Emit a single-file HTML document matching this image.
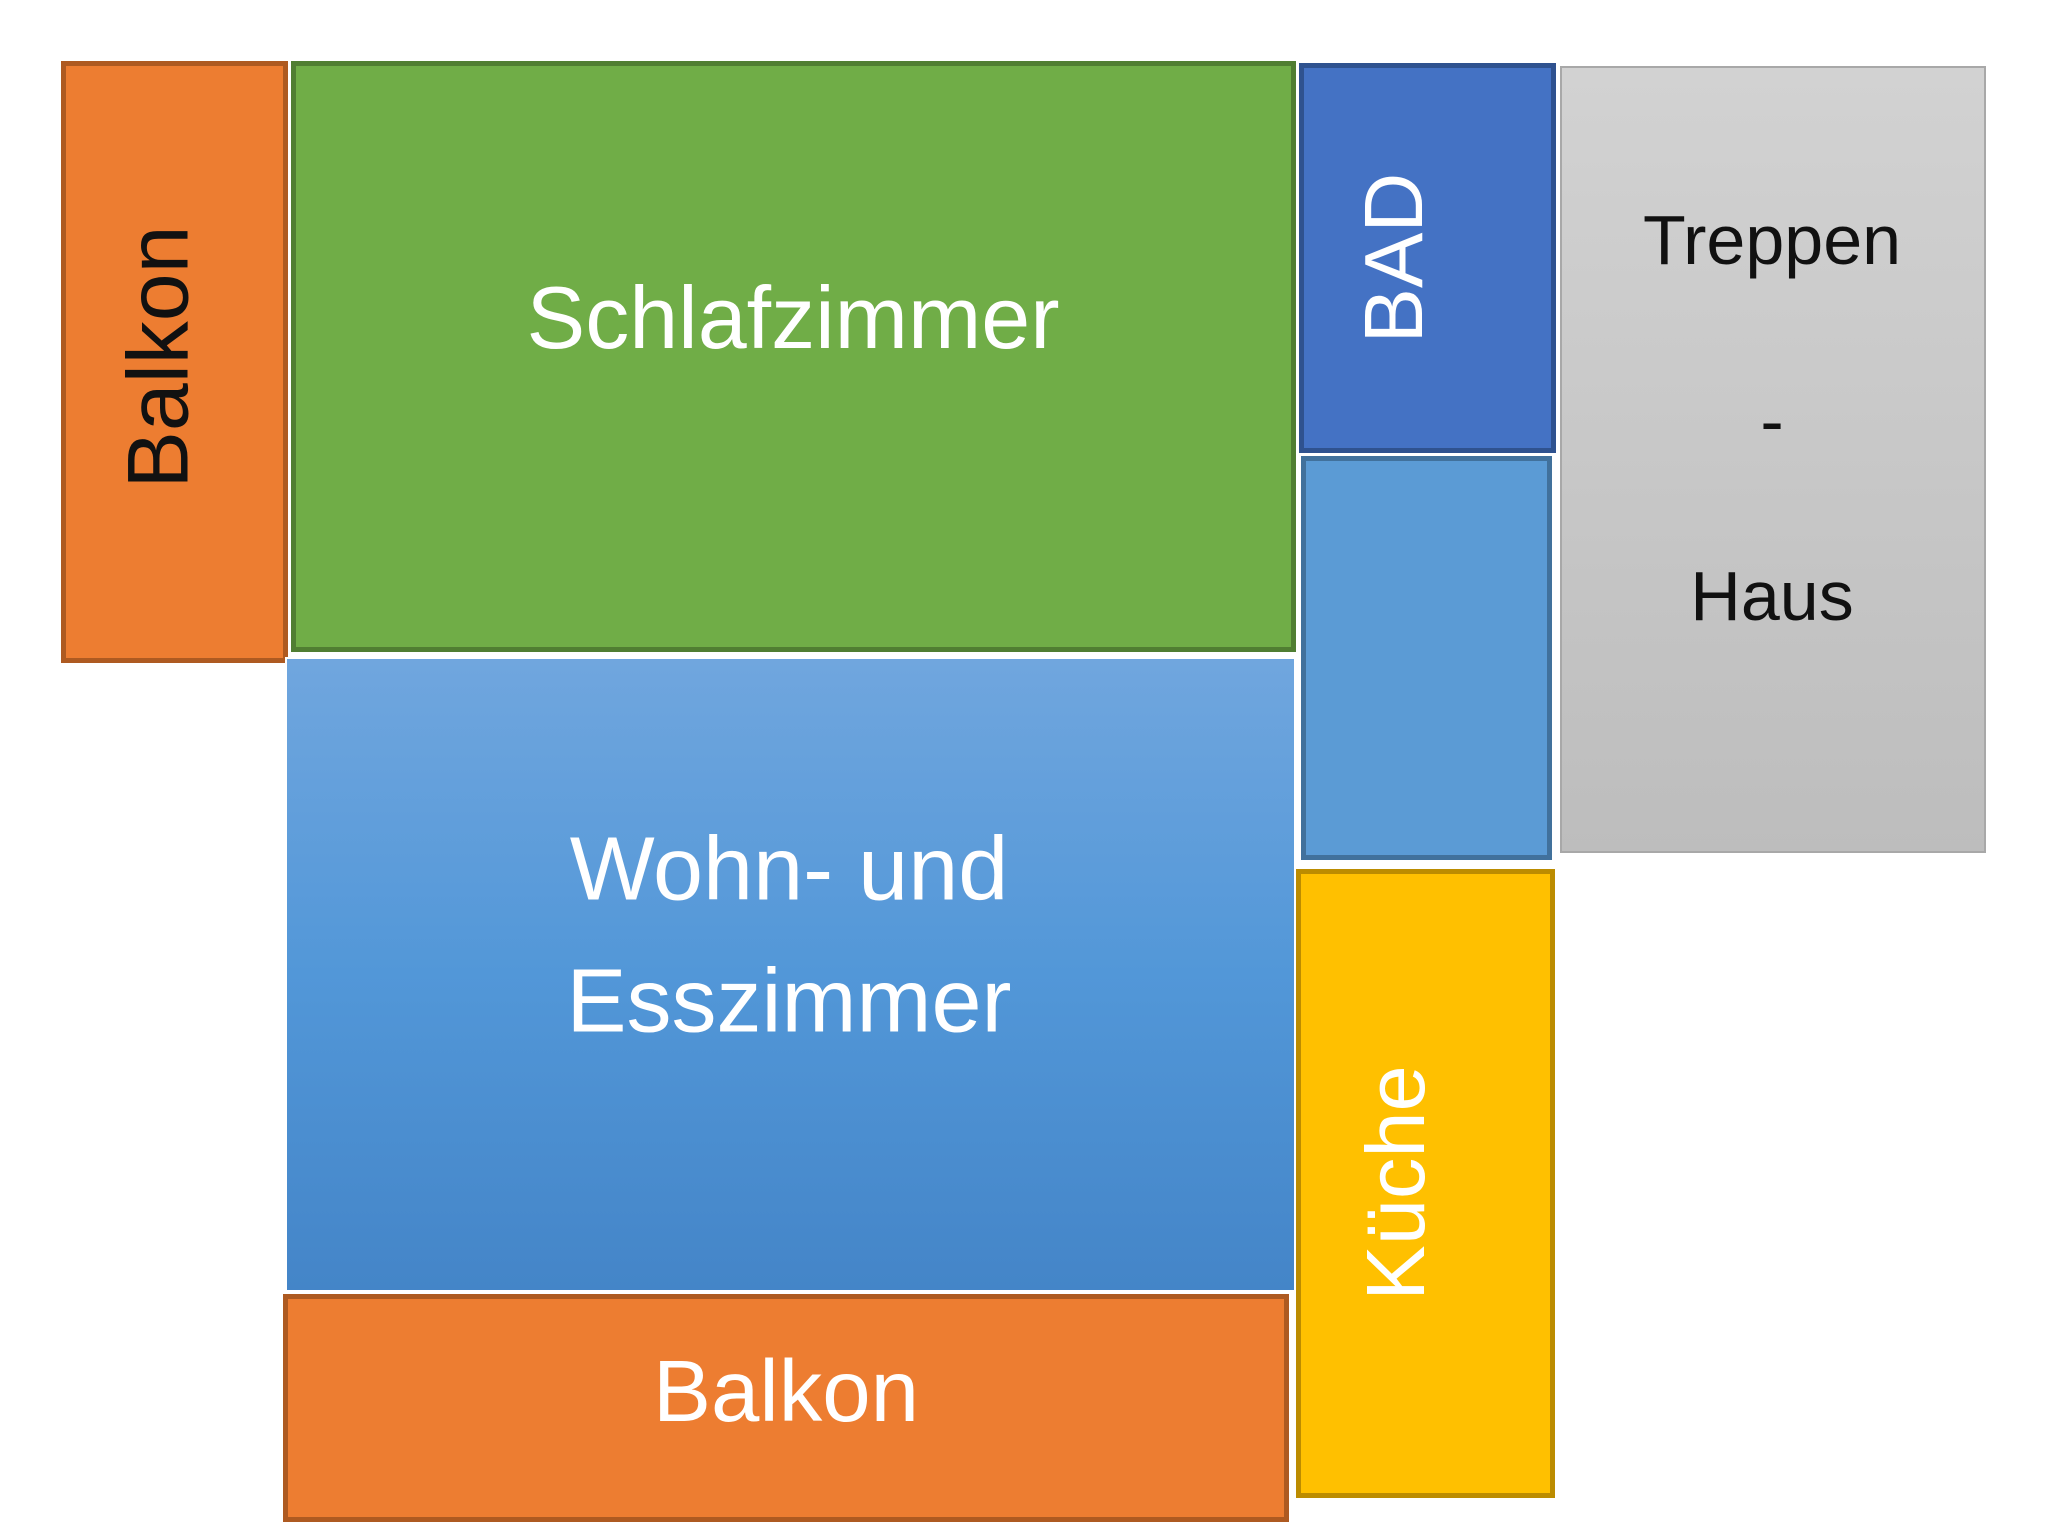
<!DOCTYPE html>
<html><head><meta charset="utf-8"><style>
html,body{margin:0;padding:0;background:#fff;}
body{width:2048px;height:1538px;position:relative;overflow:hidden;font-family:"Liberation Sans",sans-serif;}
.b{position:absolute;box-sizing:border-box;border:5px solid;}
.t{position:absolute;white-space:nowrap;transform:translate(-50%,-50%);}
.r{transform:translate(-50%,-50%) rotate(-90deg);}
</style></head><body>
<div class="b" style="left:61px;top:61px;width:227px;height:602px;background:#ED7D31;border-color:#AE5A21"></div>
<div class="b" style="left:291px;top:61px;width:1005px;height:591px;background:#70AD47;border-color:#507E32"></div>
<div class="b" style="left:1299px;top:63px;width:257px;height:390px;background:#4472C4;border-color:#2F528F"></div>
<div class="b" style="left:1560px;top:66px;width:426px;height:787px;background:linear-gradient(#d2d2d2,#bdbdbd);border:2px solid #a8a8a8"></div>
<div class="b" style="left:1301px;top:456px;width:251px;height:404px;background:#5B9BD5;border-color:#41719C"></div>
<div class="b" style="left:285px;top:657px;width:1011px;height:635px;background:linear-gradient(#70a6de,#5297d8 50%,#4485c8);border:2px solid #fff"></div>
<div class="b" style="left:1296px;top:869px;width:259px;height:629px;background:#FFC000;border-color:#BC8C00"></div>
<div class="b" style="left:283px;top:1294px;width:1006px;height:228px;background:#ED7D31;border-color:#AE5A21"></div>

<div class="t r" style="left:159px;top:357px;font-size:86px;color:#111">Balkon</div>
<div class="t" style="left:793px;top:318px;font-size:88px;color:#fff">Schlafzimmer</div>
<div class="t r" style="left:1394px;top:258px;font-size:83px;color:#fff">BAD</div>
<div class="t" style="left:1772px;top:240px;font-size:70px;color:#111">Treppen</div>
<div class="t" style="left:1772px;top:421px;font-size:70px;color:#111">-</div>
<div class="t" style="left:1772px;top:596px;font-size:70px;color:#111">Haus</div>
<div class="t" style="left:789px;top:870px;font-size:90px;color:#fff">Wohn- und</div>
<div class="t" style="left:789px;top:1002px;font-size:90px;color:#fff">Esszimmer</div>
<div class="t r" style="left:1396px;top:1183px;font-size:83px;color:#fff">Küche</div>
<div class="t" style="left:786px;top:1392px;font-size:87px;color:#fff">Balkon</div>
</body></html>
